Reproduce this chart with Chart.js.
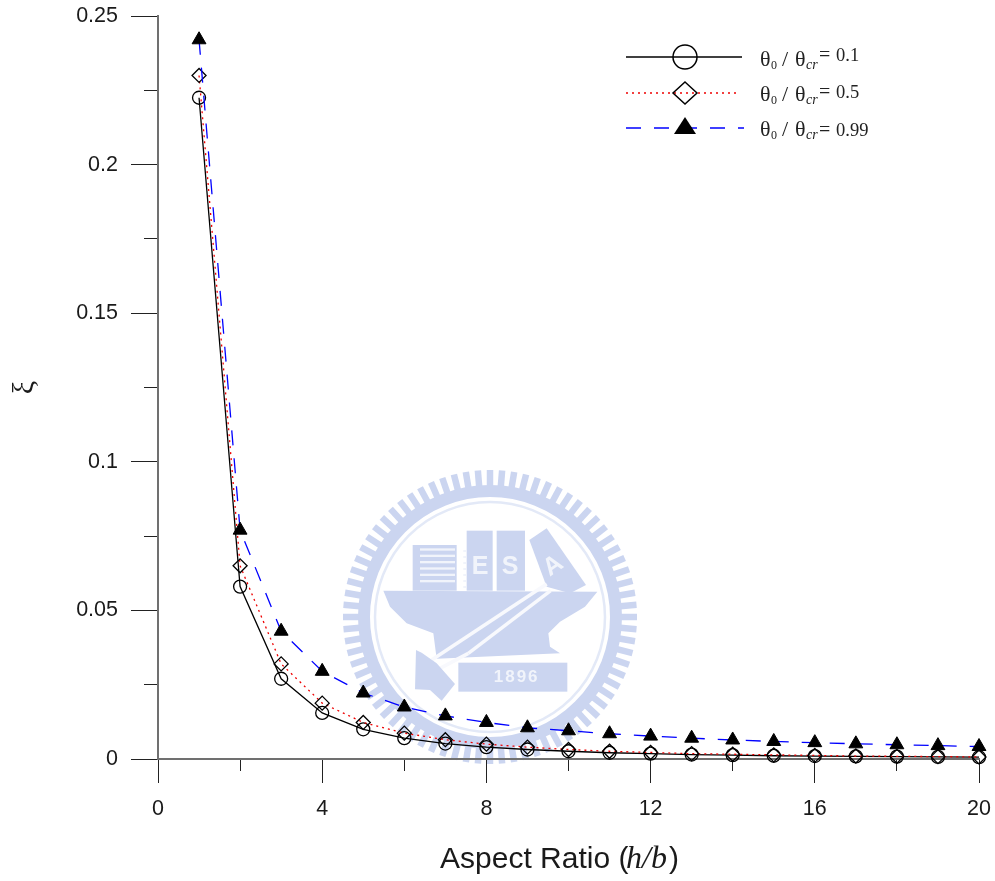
<!DOCTYPE html>
<html>
<head>
<meta charset="utf-8">
<style>html,body{margin:0;padding:0;background:#fff}canvas{display:block}</style>
<script src="https://cdn.jsdelivr.net/npm/chart.js@4"></script>
</head>
<body>
<canvas id="c" width="995" height="881"></canvas>
<script>
const aspectRatio = [1,2,3,4,5,6,7,8,9,10,11,12,13,14,15,16,17,18,19,20];
const seriesA = [0.2225,0.058,0.027,0.0155,0.0100,0.0070,0.0052,0.0040,0.0032,0.0026,0.0021,0.0018,0.0015,0.0013,0.0011,0.0010,0.0009,0.0008,0.0007,0.0006];
const seriesB = [0.230,0.065,0.032,0.0188,0.0123,0.0087,0.0065,0.0050,0.0040,0.0032,0.0026,0.0022,0.0018,0.0016,0.0014,0.0012,0.0010,0.0009,0.0008,0.0007];
const seriesC = [0.242,0.077,0.043,0.0295,0.0222,0.0175,0.0145,0.0123,0.0105,0.0095,0.0085,0.0077,0.0070,0.0064,0.0059,0.0055,0.0051,0.0048,0.0045,0.0042];
const legendValues = ['0.1','0.5','0.99'];
const yTickLabels = {0:'0',0.05:'0.05',0.1:'0.1',0.15:'0.15',0.2:'0.2',0.25:'0.25'};

const pts = s => s.map((v,i)=>({x:aspectRatio[i],y:v}));
const SANS = '"Liberation Sans", Arial, sans-serif';
const SERIF = '"Liberation Serif", "Times New Roman", serif';
const AXIS = '#707070';
const TICK = '#222';
const WM = '#cbd5f0';
const WMLIGHT = '#f1f4fb';

function drawWatermark(ctx){
  const cx=490, cy=617;
  const X=x=>340+x/3, Y=y=>460+y/3;
  const poly=(p,c)=>{ctx.fillStyle=c;ctx.beginPath();p.forEach((q,i)=>i?ctx.lineTo(X(q[0]),Y(q[1])):ctx.moveTo(X(q[0]),Y(q[1])));ctx.closePath();ctx.fill();};
  const rect=(a,b,c,d,col)=>{ctx.fillStyle=col;ctx.fillRect(X(a),Y(b),(c-a)/3,(d-b)/3);};
  ctx.save();
  ctx.strokeStyle=WM;
  ctx.lineWidth=6.5;
  for(let i=0;i<76;i++){
    const t=i/76*Math.PI*2;
    ctx.beginPath();
    ctx.moveTo(cx+128*Math.cos(t),cy+128*Math.sin(t));
    ctx.lineTo(cx+147*Math.cos(t),cy+147*Math.sin(t));
    ctx.stroke();
  }
  ctx.lineWidth=12;
  ctx.beginPath();ctx.arc(cx,cy,126,0,Math.PI*2);ctx.stroke();
  ctx.lineWidth=2.5;
  ctx.strokeStyle='#e3e9f7';
  ctx.beginPath();ctx.arc(cx,cy,115,0,Math.PI*2);ctx.stroke();
  // anvil body
  poly([[130,392],[772,395],[735,440],[660,485],[625,520],[630,560],[660,580],[290,596],[280,520],[200,490],[150,440]],WM);
  // buildings
  rect(218,255,350,392,WM);
  for(let i=0;i<6;i++) rect(240,265+i*19,345,272+i*19,WMLIGHT);
  rect(380,212,458,392,WM);
  rect(470,212,555,392,WM);
  poly([[568,240],[620,205],[738,375],[690,400],[620,380]],WM);
  for(let i=0;i<7;i++) rect(370,270+i*18,378,276+i*18,WMLIGHT);
  // white diagonal with blue handle between its two edges
  ctx.strokeStyle='#f8f9fd';ctx.lineWidth=3.5;
  ctx.beginPath();ctx.moveTo(X(620),Y(372));ctx.lineTo(X(275),Y(600));ctx.stroke();
  ctx.beginPath();ctx.moveTo(X(632),Y(392));ctx.lineTo(X(385),Y(580));ctx.stroke();
  ctx.beginPath();ctx.moveTo(X(385),Y(580));ctx.lineTo(X(300),Y(625));ctx.stroke();
  // hammer head
  poly([[228,570],[245,578],[290,610],[345,672],[305,722],[270,690],[225,688]],WM);
  // 1896 plate
  rect(355,608,682,695,WM);
  ctx.fillStyle=WMLIGHT;
  ctx.textAlign='center';ctx.textBaseline='middle';
  ctx.font='bold 17px '+SANS;
  try{ctx.letterSpacing='2px';}catch(e){}
  ctx.fillText('1896',X(530),Y(652));
  ctx.font='bold 25px '+SANS;
  try{ctx.letterSpacing='0px';}catch(e){}
  ctx.fillText('E',X(420),Y(320));
  ctx.fillText('S',X(510),Y(320));
  ctx.save();ctx.translate(X(640),Y(318));ctx.rotate(-0.6);ctx.fillText('A',0,0);ctx.restore();
  ctx.restore();
}

function legendText(ctx,baseTheta,baseVal,val){
  ctx.fillStyle='#222';ctx.textAlign='left';ctx.textBaseline='alphabetic';
  const big='22px '+SERIF, small='12px '+SERIF, smallI='italic 14px '+SERIF;
  ctx.font=big;ctx.fillText('θ',760,baseTheta);ctx.fillText('/',782,baseTheta);ctx.fillText('θ',795,baseTheta);
  ctx.font=small;ctx.fillText('0',771,baseTheta+3);
  ctx.font=smallI;ctx.fillText('cr',806,baseTheta+3);
  ctx.font='20px '+SERIF;ctx.fillText('=',819,baseVal);
  ctx.font='18.5px '+SERIF;ctx.fillText(val,836,baseVal);
}

const overlay = {
  id:'overlay',
  beforeDraw(chart){
    const ctx=chart.ctx;
    ctx.save();
    ctx.fillStyle='#fff';ctx.fillRect(0,0,chart.width,chart.height);
    drawWatermark(ctx);
    ctx.restore();
  },
  afterDraw(chart){
    const ctx=chart.ctx;
    ctx.save();
    ctx.fillStyle='#1a1a1a';ctx.textBaseline='alphabetic';ctx.textAlign='left';
    ctx.font='30px '+SANS;
    ctx.fillText('Aspect Ratio (',440,868);
    ctx.font='italic 32px '+SERIF;
    ctx.fillText('h/b',626,868);
    ctx.font='30px '+SANS;
    ctx.fillText(')',669,868);
    const rows=[
      {y:57,color:'#000',dash:[],end:742},
      {y:93,color:'#e00',dash:[2,4],end:740},
      {y:128,color:'#00f',dash:[15,13],end:744}
    ];
    rows.forEach(r=>{
      ctx.strokeStyle=r.color;ctx.lineWidth=1.3;ctx.setLineDash(r.dash);
      ctx.beginPath();ctx.moveTo(626,r.y);ctx.lineTo(r.end,r.y);ctx.stroke();
    });
    ctx.setLineDash([]);
    ctx.strokeStyle='#000';ctx.lineWidth=1.5;
    ctx.beginPath();ctx.arc(685,57,12,0,Math.PI*2);ctx.stroke();
    ctx.beginPath();ctx.moveTo(685,82);ctx.lineTo(697,93);ctx.lineTo(685,104);ctx.lineTo(673,93);ctx.closePath();ctx.stroke();
    ctx.fillStyle='#000';
    ctx.beginPath();ctx.moveTo(685,117);ctx.lineTo(696,134);ctx.lineTo(674,134);ctx.closePath();ctx.fill();
    legendText(ctx,66,61,legendValues[0]);
    legendText(ctx,101,98,legendValues[1]);
    legendText(ctx,136,136,legendValues[2]);
    ctx.restore();
  }
};

new Chart(document.getElementById('c'),{
  type:'line',
  data:{datasets:[
    {label:'θ0/θcr = 0.1',data:pts(seriesA),order:3,borderColor:'#000',borderWidth:1.3,pointStyle:'circle',pointRadius:6.5,pointBorderColor:'#000',pointBackgroundColor:'transparent',pointBorderWidth:1.3},
    {label:'θ0/θcr = 0.5',data:pts(seriesB),order:2,borderColor:'#e00',borderWidth:1.3,borderDash:[2,4],pointStyle:'rectRot',pointRadius:7,pointBorderColor:'#000',pointBackgroundColor:'transparent',pointBorderWidth:1.3},
    {label:'θ0/θcr = 0.99',data:pts(seriesC),order:1,borderColor:'#00f',borderWidth:1.3,borderDash:[15,13],pointStyle:'triangle',pointRadius:8,pointBorderColor:'#000',pointBackgroundColor:'#000',pointBorderWidth:1}
  ]},
  plugins:[overlay],
  options:{
    responsive:false,animation:false,
    devicePixelRatio:1,
    clip:false,
    layout:{padding:{top:16,right:16,left:0,bottom:0}},
    plugins:{legend:{display:false},tooltip:{enabled:false}},
    elements:{line:{tension:0}},
    scales:{
      x:{type:'linear',position:'bottom',min:0,max:20,
        afterFit(s){s.height=122;s.paddingLeft=0;s.paddingRight=0;},
        border:{color:AXIS,width:2},
        grid:{drawOnChartArea:false,tickLength:24,tickColor:TICK,tickWidth:1},
        ticks:{stepSize:4,padding:13,maxRotation:0,color:'#1a1a1a',font:{family:SANS,size:21.5}}
      },
      x2:{type:'linear',axis:'x',position:{y:0},min:0,max:20,
        border:{display:false},
        grid:{drawOnChartArea:false,tickLength:12,tickColor:TICK,tickWidth:1},
        ticks:{stepSize:2,display:false}
      },
      y:{type:'linear',position:'left',min:0,max:0.25,
        afterFit(s){s.width=158;s.paddingTop=0;s.paddingBottom=0;},
        border:{color:AXIS,width:2},
        grid:{drawOnChartArea:false,tickLength:27,tickColor:TICK,tickWidth:1},
        title:{display:true,text:'ξ',color:'#1a1a1a',font:{family:SERIF,size:30},padding:{top:7,bottom:0}},
        ticks:{stepSize:0.05,padding:13,color:'#1a1a1a',font:{family:SANS,size:21.5},
          callback(v){const k=Math.round(v*100)/100;return yTickLabels[k]??'';}}
      },
      y2:{type:'linear',axis:'y',position:{x:0},min:0,max:0.25,
        border:{display:false},
        grid:{drawOnChartArea:false,tickLength:14,tickColor:TICK,tickWidth:1},
        ticks:{stepSize:0.025,display:false}
      }
    }
  }
});
</script>
</body>
</html>
